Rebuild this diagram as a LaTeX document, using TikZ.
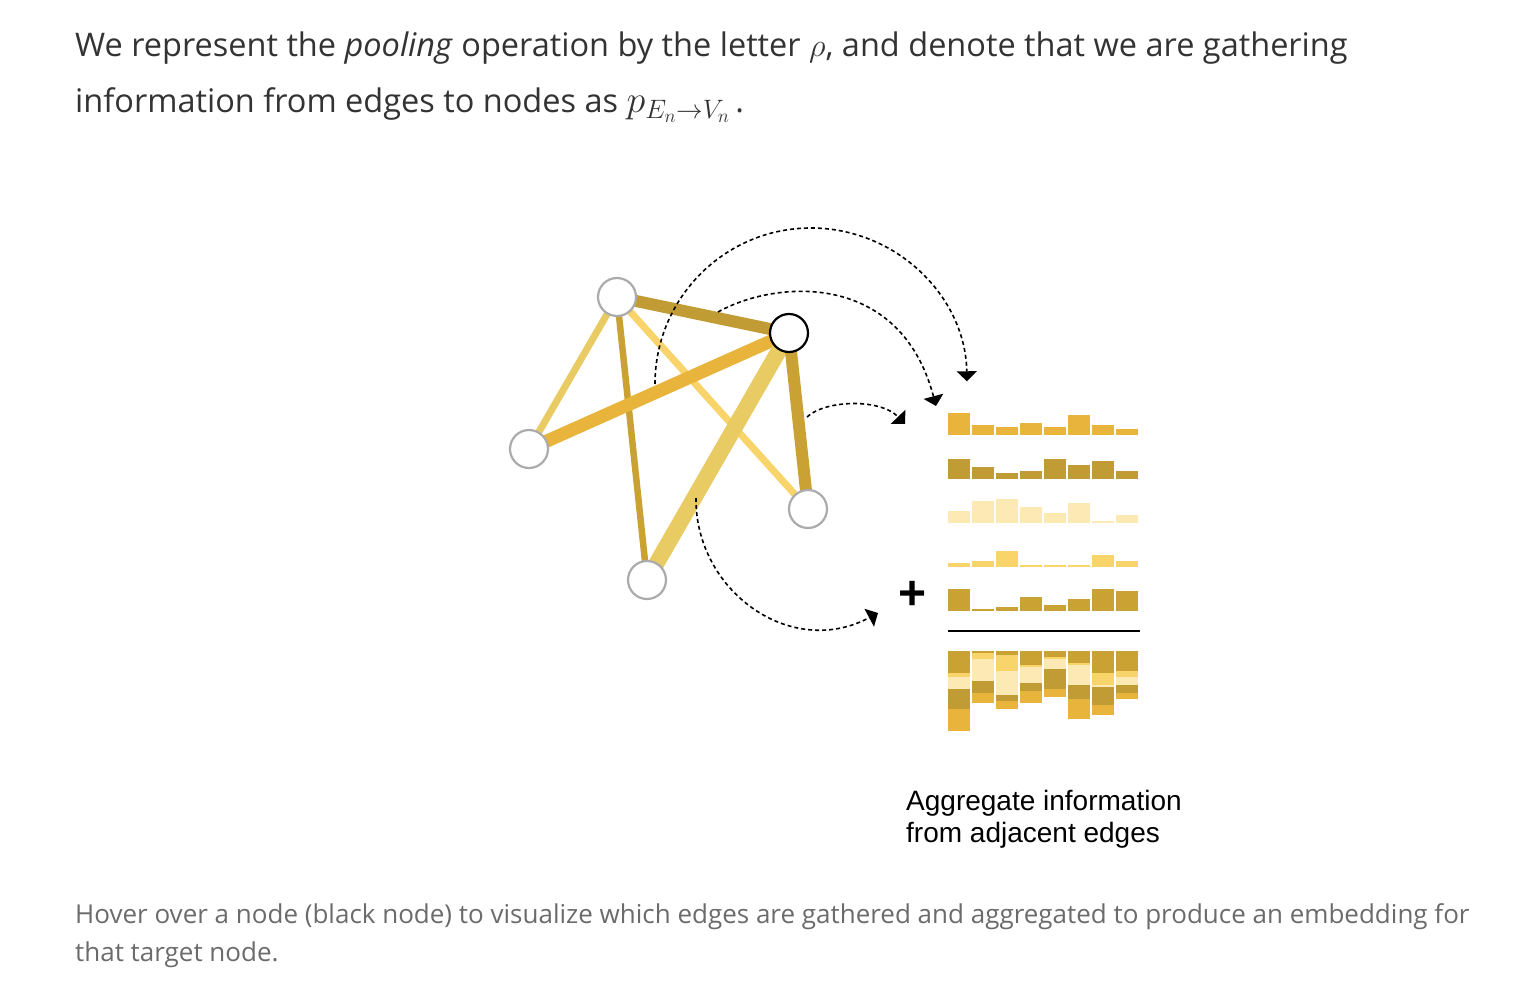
\RequirePackage{fix-cm}
\documentclass[tikz,border=0pt]{standalone}
\usepackage{fontspec}
\setmainfont{Liberation Sans}
\newfontfamily\bodyfont{Open Sans}
\usetikzlibrary{backgrounds}
\usetikzlibrary{arrows.meta}

\definecolor{goldA}{HTML}{E8B43C}
\definecolor{goldB}{HTML}{C19B33}
\definecolor{goldC}{HTML}{FCE9B3}
\definecolor{goldD}{HTML}{F8D46A}
\definecolor{goldE}{HTML}{C9A233}
\definecolor{goldF}{HTML}{E8CB62}
\definecolor{textgray}{HTML}{333333}
\definecolor{notegray}{HTML}{6B6B6B}

\begin{document}
\begin{tikzpicture}[x=1pt,y=-1pt,
  gnode/.style={circle,draw=black!33,line width=2.2pt,fill=white,minimum size=38pt,inner sep=0pt},
  target/.style={gnode,draw=black},
  flow/.style={dash pattern=on 4pt off 3pt,line width=1.6pt,-{Triangle[length=10pt,width=20pt]}},
  txt/.style={anchor=base west,inner sep=0pt}]
\useasboundingbox (0,0) rectangle (1516,982);

\node[txt,text=textgray] (intro1) at (75,57) {\bodyfont\fontsize{32.5}{32.5}\selectfont We represent the \textit{pooling} operation by the letter $\rho$, and denote that we are gathering};
\node[txt,text=textgray] (intro2) at (75,113) {\bodyfont\fontsize{32.5}{32.5}\selectfont information from edges to nodes as {\fontsize{38}{38}\selectfont$p_{E_n\rightarrow V_n}$}\,.};

\node[gnode] (va) at (617,297) {};
\node[target] (vb) at (789,333) {};
\node[gnode] (vc) at (529,449) {};
\node[gnode] (vd) at (808,509) {};
\node[gnode] (ve) at (647,580) {};

\begin{scope}[on background layer]
\draw[goldF,line width=7pt] (va.center) -- (vc.center);
\draw[goldE,line width=6.5pt] (va.center) -- (ve.center);
\draw[goldD,line width=7pt] (va.center) -- (vd.center);
\draw[goldB,line width=12pt] (va.center) -- (vb.center);
\draw[goldA,line width=13pt] (vc.center) -- (vb.center);
\draw[goldF,line width=16pt] (ve.center) -- (vb.center);
\draw[goldE,line width=12pt] (vb.center) -- (vd.center);
\end{scope}

\coordinate (outerS) at (655,384);
\coordinate (innerS) at (718,312);
\coordinate (innerE) at (936,406);
\coordinate (shortS) at (807,417);
\coordinate (shortE) at (905,424);
\coordinate (lowS) at (696,498);
\coordinate (lowE) at (878,613);
\draw[flow] (outerS) arc[start angle=180,end angle=359,radius=156];
\draw[flow] (innerS) .. controls (775,280) and (900,270) .. (innerE);
\draw[flow] (shortS) .. controls (825,400) and (880,398) .. (shortE);
\draw[flow] (lowS) .. controls (695,590) and (790,660) .. (lowE);

\foreach \i/\h in {0/22,1/10,2/8,3/12,4/8,5/20,6/10,7/6}
  \fill[goldA] (948+24*\i,434.7) rectangle ++(22,-\h);
\foreach \i/\h in {0/20,1/12,2/6,3/8,4/20,5/14,6/18,7/8}
  \fill[goldB] (948+24*\i,478.7) rectangle ++(22,-\h);
\foreach \i/\h in {0/12,1/22,2/24,3/16,4/10,5/20,6/2,7/8}
  \fill[goldC] (948+24*\i,522.7) rectangle ++(22,-\h);
\foreach \i/\h in {0/4,1/6,2/16,3/2,4/2,5/2,6/12,7/6}
  \fill[goldD] (948+24*\i,566.7) rectangle ++(22,-\h);
\foreach \i/\h in {0/22,1/2,2/4,3/14,4/6,5/12,6/22,7/20}
  \fill[goldE] (948+24*\i,610.7) rectangle ++(22,-\h);

\node (plus) at (913,595) {\fontsize{48}{48}\selectfont\textbf{+}};
\draw[line width=2pt] (948,630.7) -- (1140,630.7);

\foreach \i/\ha/\hb/\hc/\hd/\he in {0/22/4/12/20/22,1/2/6/22/12/10,2/4/16/24/6/8,3/14/2/16/8/12,
    4/6/2/10/20/8,5/12/2/20/14/20,6/22/12/2/18/10,7/20/6/8/8/6}{
  \fill[goldE] (948+24*\i,650.7) rectangle ++(22,\ha);
  \fill[goldD] (948+24*\i,650.7+\ha) rectangle ++(22,\hb);
  \fill[goldC] (948+24*\i,650.7+\ha+\hb) rectangle ++(22,\hc);
  \fill[goldB] (948+24*\i,650.7+\ha+\hb+\hc) rectangle ++(22,\hd);
  \fill[goldA] (948+24*\i,650.7+\ha+\hb+\hc+\hd) rectangle ++(22,\he);
}

\node[txt] (cap1) at (906,810) {\fontsize{28}{28}\selectfont Aggregate information};
\node[txt] (cap2) at (906,842) {\fontsize{28}{28}\selectfont from adjacent edges};

\node[txt,text=notegray] (note1) at (75,923) {\bodyfont\fontsize{26}{26}\selectfont Hover over a node (black node) to visualize which edges are gathered and aggregated to produce an embedding for};
\node[txt,text=notegray] (note2) at (75,961) {\bodyfont\fontsize{26}{26}\selectfont that target node.};
\end{tikzpicture}
\end{document}
